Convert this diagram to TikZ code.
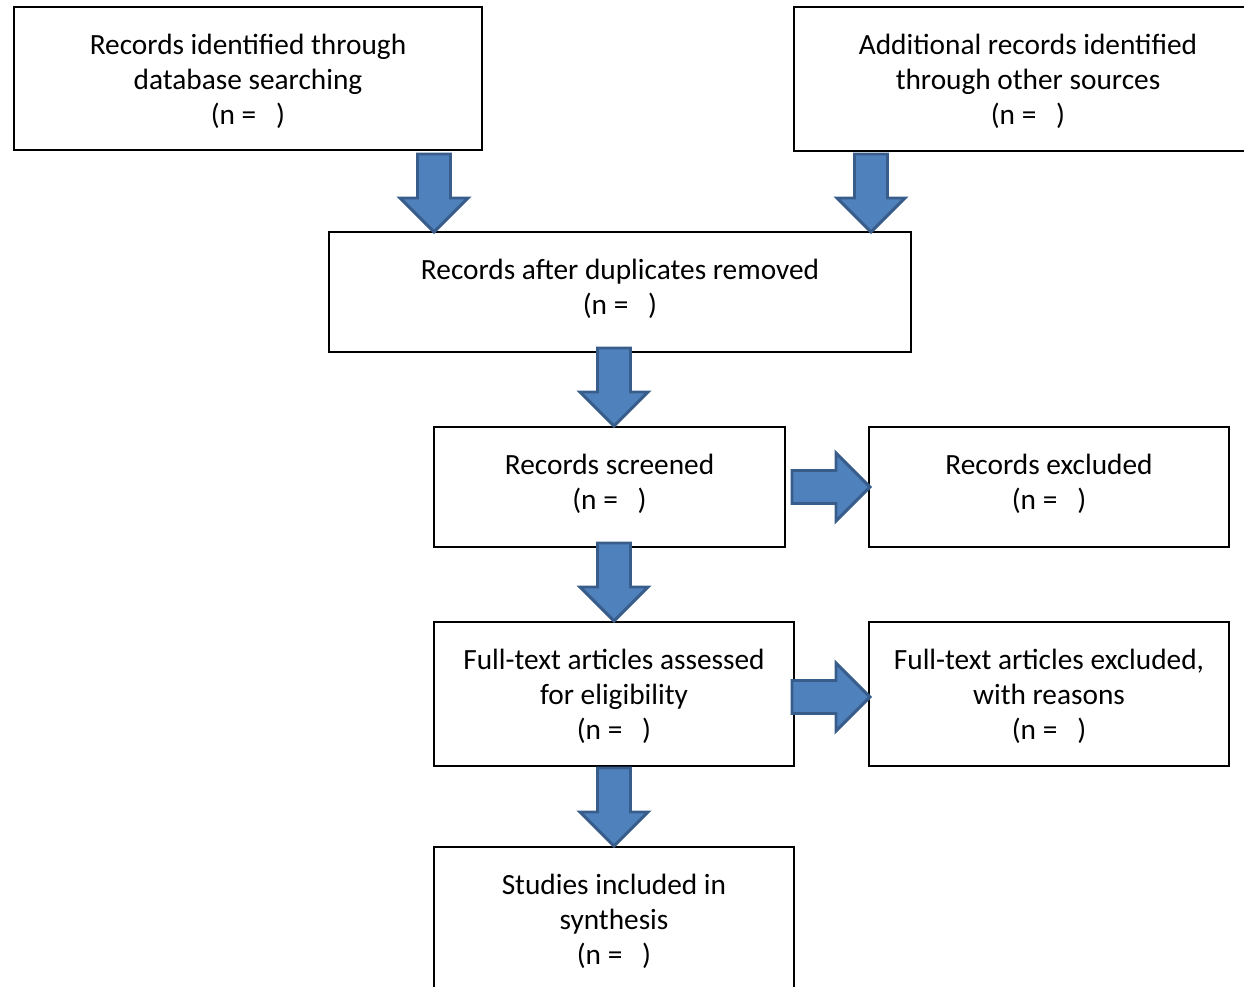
\documentclass[tikz,border=0pt]{standalone}
\usepackage{fontspec}
\setmainfont{Carlito}
\usepackage{tikz}
\usetikzlibrary{calc,positioning}
\newlength\pix
\setlength\pix{0.375pt}
\definecolor{arrowfill}{HTML}{4F81BD}
\definecolor{arrowline}{HTML}{385D8A}
\begin{document}
\begin{tikzpicture}[x=0.375pt,y=-0.375pt,
                    box/.style={draw,line width=0.75pt,inner sep=0pt,anchor=north west},
                    txt/.style={align=center,inner sep=0pt,font=\fontsize{11pt}{13.1pt}\selectfont},
                    fatarrow/.pic={\draw[line width=1.1pt,draw=arrowline,fill=arrowfill,line join=miter]
                                   (0,0)--(-34,-34)--(-16.5,-34)--(-16.5,-78)--(16.5,-78)--(16.5,-34)--(34,-34)--cycle;}]
                      \useasboundingbox (0,0) rectangle (1244,987);
                      \clip (0,0) rectangle (1244,987);
                      \node[box,minimum width=468\pix,minimum height=143\pix](rid)at(13,6){};
                      \node[box,minimum width=468\pix,minimum height=144\pix](add)at(793,6){};
                      \node[box,minimum width=582\pix,minimum height=120\pix](dup)at(328,231){};
                      \node[box,minimum width=351\pix,minimum height=120\pix](scr)at(433,426){};
                      \node[box,minimum width=360\pix,minimum height=120\pix](exc)at(868,426){};
                      \node[box,minimum width=360\pix,minimum height=144\pix](ful)at(433,621){};
                      \node[box,minimum width=360\pix,minimum height=144\pix](fex)at(868,621){};
                      \node[box,minimum width=360\pix,minimum height=144\pix](inc)at(433,846){};
                      \node[txt,below=27.5\pix of rid.north](rid-t){Records identified through\\database searching\\(n = \ \ )};
                      \node[txt,below=27.5\pix of add.north](add-t){Additional records identified\\through other sources\\(n = \ \ )};
                      \node[txt,below=27.5\pix of dup.north](dup-t){Records after duplicates removed\\(n = \ \ )};
                      \node[txt,below=27.5\pix of scr.north](scr-t){Records screened\\(n = \ \ )};
                      \node[txt,below=27.5\pix of exc.north](exc-t){Records excluded\\(n = \ \ )};
                      \node[txt,below=27.5\pix of ful.north](ful-t){Full-text articles assessed\\for eligibility\\(n = \ \ )};
                      \node[txt,below=27.5\pix of fex.north](fex-t){Full-text articles excluded,\\with reasons\\(n = \ \ )};
                      \node[txt,below=27.5\pix of inc.north](inc-t){Studies included in\\synthesis\\(n = \ \ )};
                      \pic at ($(dup.north west)+(106,1)$) {fatarrow};
                      \pic at ($(dup.north east)+(-41,1)$) {fatarrow};
                      \pic at (scr.north -| ful.north) {fatarrow};
                      \pic at (ful.north) {fatarrow};
                      \pic at (inc.north) {fatarrow};
                      \pic[rotate=90] at ($(exc.west)+(2,0)$) {fatarrow};
                      \pic[rotate=90] at ($(fex.west)+(2,3)$) {fatarrow};
                  \end{tikzpicture}
\end{document}
